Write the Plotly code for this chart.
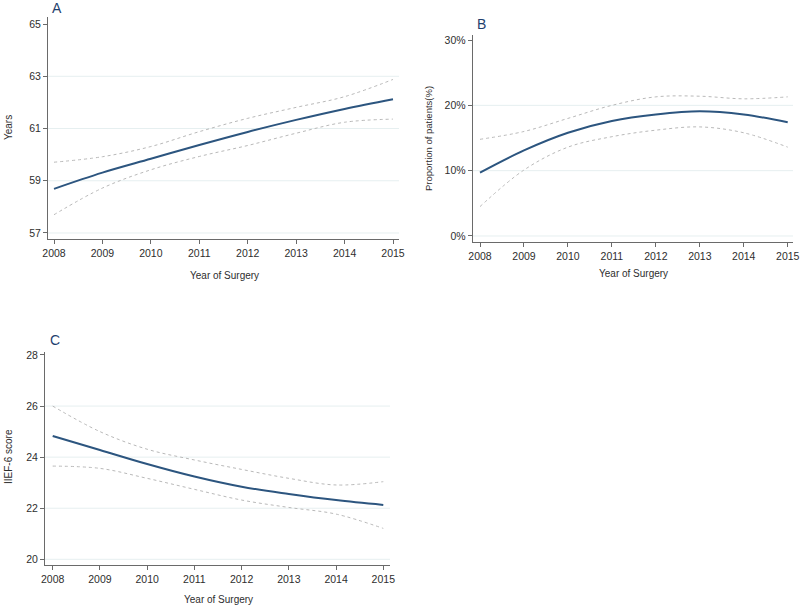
import plotly.graph_objects as go

years = [2008, 2009, 2010, 2011, 2012, 2013, 2014, 2015]

# Panel A: age (years)
a_fit = [58.69, 59.31, 59.84, 60.37, 60.87, 61.33, 61.75, 62.12]
a_upper = [59.71, 59.92, 60.31, 60.88, 61.39, 61.81, 62.22, 62.88]
a_lower = [57.70, 58.72, 59.42, 59.93, 60.35, 60.82, 61.24, 61.36]
a_ticks = [57, 59, 61, 63, 65]

# Panel B: proportion of patients (%)
b_fit = [9.7, 13.1, 15.8, 17.6, 18.6, 19.1, 18.6, 17.4]
b_upper = [14.8, 16.0, 18.0, 20.0, 21.3, 21.4, 21.0, 21.3]
b_lower = [4.5, 10.1, 13.6, 15.2, 16.2, 16.7, 15.8, 13.6]
b_ticks = [0, 10, 20, 30]

# Panel C: IIEF-6 score
c_fit = [24.83, 24.28, 23.73, 23.24, 22.84, 22.56, 22.32, 22.13]
c_upper = [26.0, 25.0, 24.31, 23.89, 23.52, 23.17, 22.91, 23.04]
c_lower = [23.65, 23.56, 23.17, 22.74, 22.32, 22.03, 21.77, 21.21]
c_ticks = [20, 22, 24, 26, 28]

x_title = "Year of Surgery"
titles = ["Years", "Proportion of patients(%)", "IIEF-6 score"]
letters = ["A", "B", "C"]

W, H = 800, 608
FONT = "Liberation Sans, Arial, sans-serif"
LINE = "#2c557f"
CI = "#b9b9b9"
GRID = "#e6eff0"
AX = "#6a6a6a"
TXT = "#2e2e2e"
LET = "#1f3f6e"

def px_x(p):
    return p / W

def px_y(p):
    return 1 - p / H

panels = [
    # (fit, upper, lower, ticks, ticktext, xdom px, ydom px, xrange, yrange)
    (a_fit, a_upper, a_lower, a_ticks, [str(t) for t in a_ticks], (48, 399), (17, 239), (2007.876, 2015.124), (56.77, 65.27)),
    (b_fit, b_upper, b_lower, b_ticks, [f"{t}%" for t in b_ticks], (472.7, 793), (35, 242), (2007.834, 2015.12), (-0.92, 30.77)),
    (c_fit, c_upper, c_lower, c_ticks, [str(t) for t in c_ticks], (45, 390), (352, 565), (2007.837, 2015.142), (19.777, 28.117)),
]

fig = go.Figure()
layout = dict(
    template="none",
    width=W, height=H, margin=dict(l=0, r=0, t=0, b=0, pad=0),
    paper_bgcolor="white", plot_bgcolor="white", showlegend=False,
    font=dict(family=FONT, color=TXT, size=10),
)
shapes = []
annotations = []

for i, (fit, up, lo, ticks, ttext, xd, yd, xr, yr) in enumerate(panels):
    n = "" if i == 0 else str(i + 1)
    xa, ya = "x" + n, "y" + n
    for series, color, width, dash in [(up, CI, 1, "3px,3px"), (lo, CI, 1, "3px,3px"), (fit, LINE, 2, "solid")]:
        fig.add_trace(go.Scatter(
            x=years, y=series, mode="lines", xaxis=xa, yaxis=ya,
            line=dict(color=color, width=width, dash=dash, shape="spline", smoothing=1.0),
            hoverinfo="skip",
        ))
    layout["xaxis" + n] = dict(
        domain=[px_x(xd[0]), px_x(xd[1])], range=list(xr), anchor=ya, automargin=False,
        tickmode="array", tickvals=years, ticktext=[str(y) for y in years],
        ticks="outside", ticklen=4, tickcolor=AX, tickwidth=1,
        showline=True, linecolor=AX, linewidth=1, showgrid=False, zeroline=False,
        tickfont=dict(size=10.5, color=TXT, family=FONT),
    )
    layout["yaxis" + n] = dict(
        domain=[px_y(yd[1]), px_y(yd[0])], range=list(yr), anchor=xa, automargin=False,
        tickmode="array", tickvals=ticks, ticktext=ttext,
        ticks="outside", ticklen=4, tickcolor=AX, tickwidth=1,
        showline=True, linecolor=AX, linewidth=1, showgrid=False, zeroline=False,
        tickfont=dict(size=10.5, color=TXT, family=FONT),
    )
    for t in ticks[:-1]:
        shapes.append(dict(type="line", xref=xa + " domain", yref=ya, x0=0, x1=1, y0=t, y1=t,
                           line=dict(color=GRID, width=1), layer="below"))

def ann(text, x, y, size, color=TXT, angle=0, xanchor="center"):
    return dict(text=text, x=px_x(x), y=px_y(y), xref="paper", yref="paper", showarrow=False,
                textangle=angle, font=dict(size=size, color=color, family=FONT),
                xanchor=xanchor, yanchor="middle")

annotations += [
    ann(x_title, 224, 275, 10),
    ann(x_title, 633, 274, 10),
    ann(x_title, 218, 599, 10),
    ann(titles[0], 8, 128, 10, angle=-90),
    ann(titles[1], 428, 139, 9.5, angle=-90),
    ann(titles[2], 8, 457, 10, angle=-90),
    ann(letters[0], 50, 8, 14, LET, xanchor="left"),
    ann(letters[1], 475, 24, 14, LET, xanchor="left"),
    ann(letters[2], 48, 340, 14, LET, xanchor="left"),
]

layout["shapes"] = shapes
layout["annotations"] = annotations
fig.update_layout(**layout)
fig.write_html("out.html", config={"displayModeBar": False, "staticPlot": True},
               post_script="document.body.style.margin='0';document.body.style.overflow='hidden';")
